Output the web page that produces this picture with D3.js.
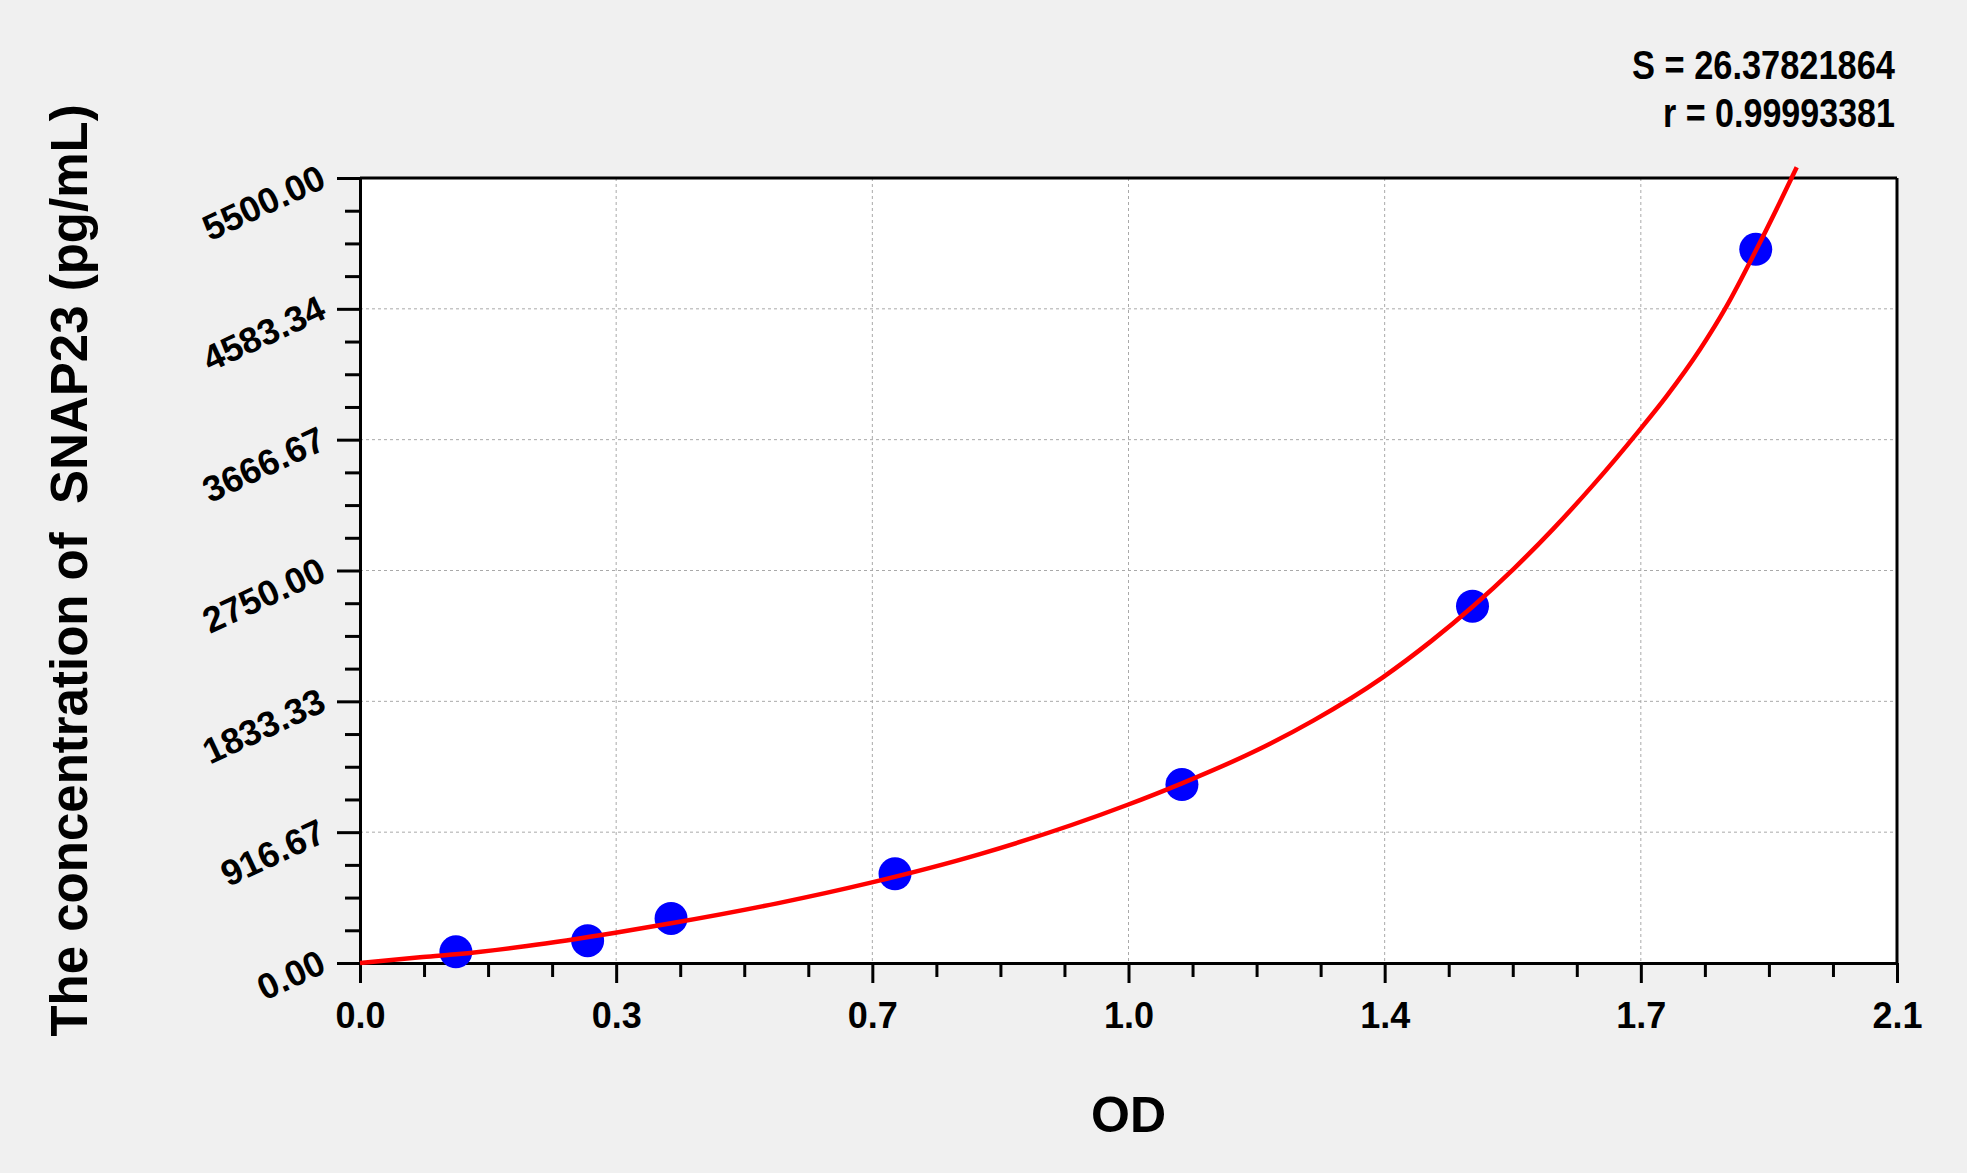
<!DOCTYPE html>
<meta charset="utf-8">
<style>
body { margin: 0; background: #f0f0f0; }
svg text { font-family: "Liberation Sans", Arial, sans-serif; font-weight: bold; fill: #000; }
.grid line { stroke: #a9a9a9; stroke-width: 1; stroke-dasharray: 3,3; }
.axis path, .axis line { stroke: #000; stroke-width: 3; }
</style>
<body>
<script src="https://d3js.org/d3.v7.min.js"></script>
<script>

// axis ticks as printed on the chart
var odTicks = [0, 0.35, 0.7, 1.05, 1.4, 1.75, 2.1];
var odTickLabels = ["0.0", "0.3", "0.7", "1.0", "1.4", "1.7", "2.1"];
var concTicks = [0, 916.67, 1833.33, 2750, 3666.67, 4583.34, 5500];
var concTickLabels = ["0.00", "916.67", "1833.33", "2750.00", "3666.67", "4583.34", "5500.00"];

// standards (blue dots)
var stdOD = [0.131, 0.311, 0.425, 0.731, 1.123, 1.520, 1.907];
var stdConc = [78.13, 156.25, 312.5, 625, 1250, 2500, 5000];

// fitted curve
var fitOD = [0, 0.082, 0.131, 0.228, 0.349, 0.425, 0.570, 0.698, 0.847, 1.048, 1.123, 1.221,
             1.303, 1.397, 1.464, 1.520, 1.576, 1.630, 1.685, 1.746, 1.785, 1.831, 1.867,
             1.907, 1.940, 1.963];
var fitConc = [0, 40, 61, 119, 212, 278, 418, 563, 763, 1107, 1259, 1480,
               1700, 2000, 2257, 2496, 2760, 3040, 3350, 3720, 3970, 4300, 4600,
               4990, 5330, 5575];

var statS = "S = 26.37821864";
var statR = "r = 0.99993381";

var W = 1967, H = 1173;
var margin = {top: 178, right: 70, bottom: 210, left: 360};
var width = W - margin.left - margin.right,
    height = H - margin.top - margin.bottom;

var svg = d3.select("body").append("svg")
    .attr("width", W)
    .attr("height", H);

var g = svg.append("g")
    .attr("transform", "translate(" + margin.left + "," + margin.top + ")");

var x = d3.scaleLinear().domain([0, 2.1]).range([0, width]);
var y = d3.scaleLinear().domain([0, 5500]).range([height, 0]);

// plot background
g.append("rect")
    .attr("width", width)
    .attr("height", height)
    .attr("fill", "#fff");

// dashed grid
g.append("g")
    .attr("class", "grid")
    .selectAll("line")
    .data(odTicks.slice(1, -1))
    .join("line")
      .attr("x1", function(d) { return x(d); })
      .attr("x2", function(d) { return x(d); })
      .attr("y1", 0)
      .attr("y2", height);

g.append("g")
    .attr("class", "grid")
    .selectAll("line")
    .data(concTicks.slice(1, -1))
    .join("line")
      .attr("y1", function(d) { return y(d); })
      .attr("y2", function(d) { return y(d); })
      .attr("x1", 0)
      .attr("x2", width);

// minor ticks (4 steps between labels)
var xMinor = d3.range(0, 25).filter(function(i) { return i % 4; }).map(function(i) { return i * 2.1 / 24; });
var yMinor = d3.range(0, 25).filter(function(i) { return i % 4; }).map(function(i) { return i * 5500 / 24; });

g.append("g")
    .attr("class", "axis")
    .attr("transform", "translate(0," + height + ")")
    .call(d3.axisBottom(x).tickValues(xMinor).tickSize(14).tickFormat(""))
    .select(".domain").remove();

g.append("g")
    .attr("class", "axis")
    .call(d3.axisLeft(y).tickValues(yMinor).tickSize(15).tickFormat(""))
    .select(".domain").remove();

// major x axis
var xAxis = g.append("g")
    .attr("class", "axis")
    .attr("transform", "translate(0," + height + ")")
    .call(d3.axisBottom(x)
        .tickValues(odTicks)
        .tickSize(20)
        .tickSizeOuter(0)
        .tickFormat(function(d, i) { return odTickLabels[i]; }));

xAxis.selectAll("text")
    .attr("y", 65)
    .attr("dy", 0)
    .style("font-size", "36px");

// major y axis
var yAxis = g.append("g")
    .attr("class", "axis")
    .call(d3.axisLeft(y)
        .tickValues(concTicks)
        .tickSize(23)
        .tickSizeOuter(0)
        .tickFormat(function(d, i) { return concTickLabels[i]; }));

yAxis.selectAll("text")
    .attr("x", 0)
    .attr("dy", 0)
    .attr("text-anchor", "end")
    .attr("transform", "translate(-32,8) rotate(-25)")
    .style("font-size", "36px");

// frame top/right
g.append("line")
    .attr("x1", 0).attr("x2", width)
    .attr("y1", 0).attr("y2", 0)
    .attr("stroke", "#000").attr("stroke-width", 3);
g.append("line")
    .attr("x1", width).attr("x2", width)
    .attr("y1", 0).attr("y2", height)
    .attr("stroke", "#000").attr("stroke-width", 3);

// standard points
g.append("g")
    .selectAll("circle")
    .data(stdOD)
    .join("circle")
      .attr("cx", function(d) { return x(d); })
      .attr("cy", function(d, i) { return y(stdConc[i]); })
      .attr("r", 16.5)
      .attr("fill", "#0000ff");

// fitted curve on top
var line = d3.line()
    .x(function(d) { return x(d); })
    .y(function(d, i) { return y(fitConc[i]); })
    .curve(d3.curveMonotoneX);

g.append("path")
    .datum(fitOD)
    .attr("d", line)
    .attr("fill", "none")
    .attr("stroke", "#ff0000")
    .attr("stroke-width", 4.5);

// axis titles
svg.append("text")
    .attr("x", margin.left + width / 2)
    .attr("y", 1132)
    .attr("text-anchor", "middle")
    .style("font-size", "50px")
    .text("OD");

svg.append("text")
    .attr("transform", "translate(87," + (margin.top + height / 2) + ") rotate(-90)")
    .attr("text-anchor", "middle")
    .style("font-size", "51px")
    .style("white-space", "pre")
    .text("The concentration of  SNAP23 (pg/mL)");

// fit statistics
svg.append("text")
    .attr("x", 1895)
    .attr("y", 79)
    .attr("text-anchor", "end")
    .attr("textLength", 263)
    .attr("lengthAdjust", "spacingAndGlyphs")
    .style("font-size", "40px")
    .text(statS);

svg.append("text")
    .attr("x", 1895)
    .attr("y", 127)
    .attr("text-anchor", "end")
    .attr("textLength", 232)
    .attr("lengthAdjust", "spacingAndGlyphs")
    .style("font-size", "40px")
    .text(statR);

</script>
</body>
